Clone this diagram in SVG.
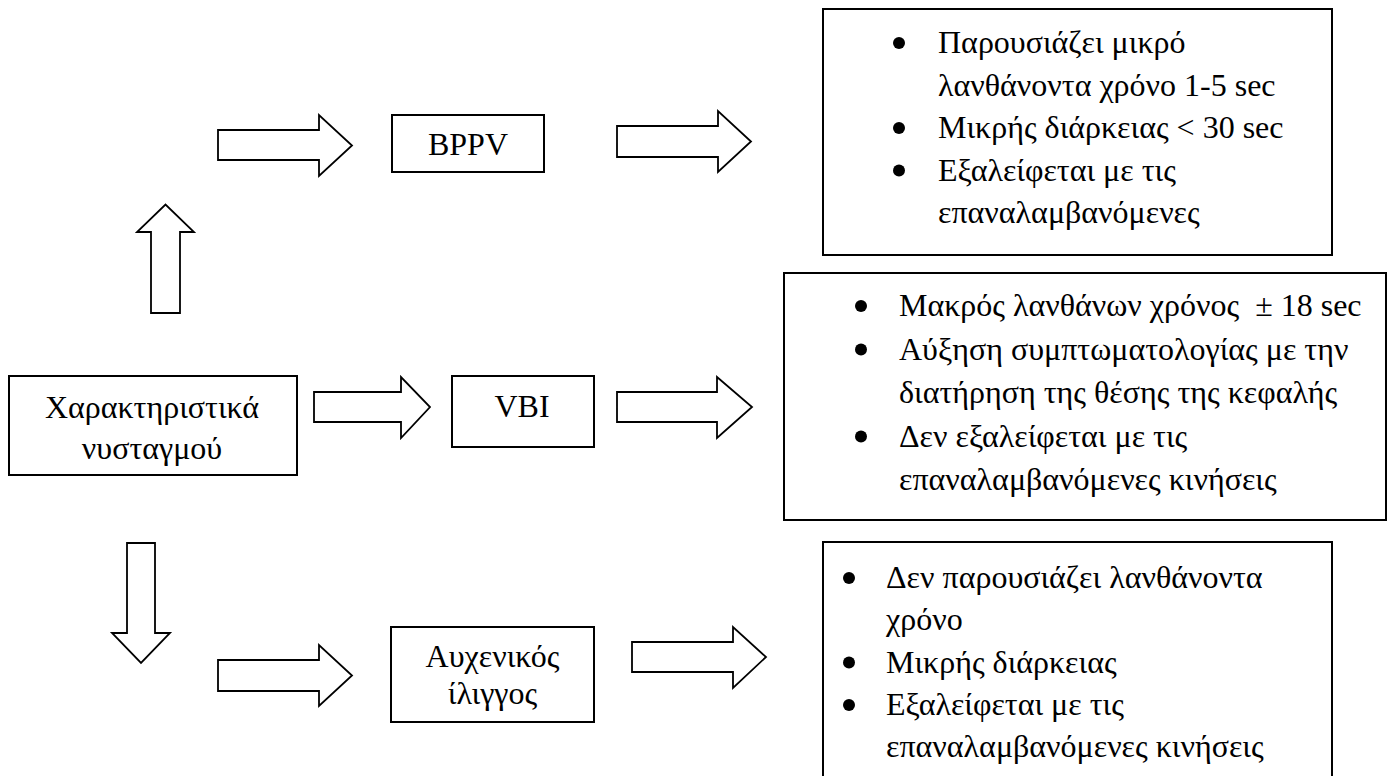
<svg xmlns="http://www.w3.org/2000/svg" width="1394" height="776" viewBox="0 0 1394 776">
<style>
.box{fill:#fff;stroke:#000;stroke-width:2}
.arr{fill:#fff;stroke:#000;stroke-width:1.8;stroke-linejoin:miter}
text{font-family:"Liberation Serif","Times New Roman",serif;font-size:32px;fill:#000}
.c{text-anchor:middle}
.pre{white-space:pre}
.dot{fill:#000}
</style>
<rect width="1394" height="776" fill="#fff"/>
<g id="connectors">
<polygon class="arr" points="218,130 319,130 319,115 352,145.5 319,176 319,160 218,160"/>
<polygon class="arr" points="617,126 718,126 718,111 751,141.5 718,172 718,157 617,157"/>
<polygon class="arr" points="151,313 151,232 137,232 165.5,204.5 194,232 180,232 180,313"/>
<polygon class="arr" points="314,392 401,392 401,377 430,407 401,438 401,422 314,422"/>
<polygon class="arr" points="617,392 717,392 717,377 752,407 717,438 717,422 617,422"/>
<polygon class="arr" points="127,543 155,543 155,633 170,633 141,663 112,633 127,633"/>
<polygon class="arr" points="218,660 319,660 319,645 352,675.5 319,706 319,691 218,691"/>
<polygon class="arr" points="632,642 733,642 733,627 766,657 733,688 733,672 632,672"/>
</g>
<g id="node-main">
<rect class="box" x="9" y="376" width="288" height="99"/>
<text class="c" x="152" y="418">Χαρακτηριστικά</text>
<text class="c" x="152" y="459">νυσταγμού</text>
</g>
<g id="node-bppv">
<rect class="box" x="392" y="115" width="152" height="57"/>
<text class="c" x="468" y="155">BPPV</text>
</g>
<g id="node-vbi">
<rect class="box" x="452" y="376" width="142" height="71"/>
<text class="c" x="522" y="417">VBI</text>
</g>
<g id="node-cervical">
<rect class="box" x="391" y="627" width="203" height="95"/>
<text class="c" x="492.5" y="667">Αυχενικός</text>
<text class="c" x="492.5" y="704">ίλιγγος</text>
</g>
<g id="node-bppv-desc">
<rect class="box" x="823" y="9" width="509" height="246"/>
<circle class="dot" cx="899" cy="43" r="6"/>
<text x="938" y="53">Παρουσιάζει μικρό</text>
<text x="938" y="95.5">λανθάνοντα χρόνο 1-5 sec</text>
<circle class="dot" cx="899" cy="128" r="6"/>
<text x="938" y="138">Μικρής διάρκειας &lt; 30 sec</text>
<circle class="dot" cx="899" cy="170.5" r="6"/>
<text x="938" y="180.5">Εξαλείφεται με τις</text>
<text x="938" y="223">επαναλαμβανόμενες</text>
</g>
<g id="node-vbi-desc">
<rect class="box" x="784" y="273" width="602" height="247"/>
<circle class="dot" cx="861" cy="306" r="6"/>
<text class="pre" x="899" y="316">Μακρός λανθάνων χρόνος  ± 18 sec</text>
<circle class="dot" cx="861" cy="349.5" r="6"/>
<text x="899" y="359.5">Αύξηση συμπτωματολογίας με την</text>
<text x="899" y="403">διατήρηση της θέσης της κεφαλής</text>
<circle class="dot" cx="861" cy="436.5" r="6"/>
<text x="899" y="446.5">Δεν εξαλείφεται με τις</text>
<text x="899" y="490">επαναλαμβανόμενες κινήσεις</text>
</g>
<g id="node-cervical-desc">
<rect class="box" x="823" y="542" width="509" height="260"/>
<circle class="dot" cx="849" cy="578" r="6"/>
<text x="886" y="588">Δεν παρουσιάζει λανθάνοντα</text>
<text x="886" y="630">χρόνο</text>
<circle class="dot" cx="849" cy="662.5" r="6"/>
<text x="886" y="672.5">Μικρής διάρκειας</text>
<circle class="dot" cx="849" cy="705" r="6"/>
<text x="886" y="715">Εξαλείφεται με τις</text>
<text x="886" y="757">επαναλαμβανόμενες κινήσεις</text>
</g>
</svg>
